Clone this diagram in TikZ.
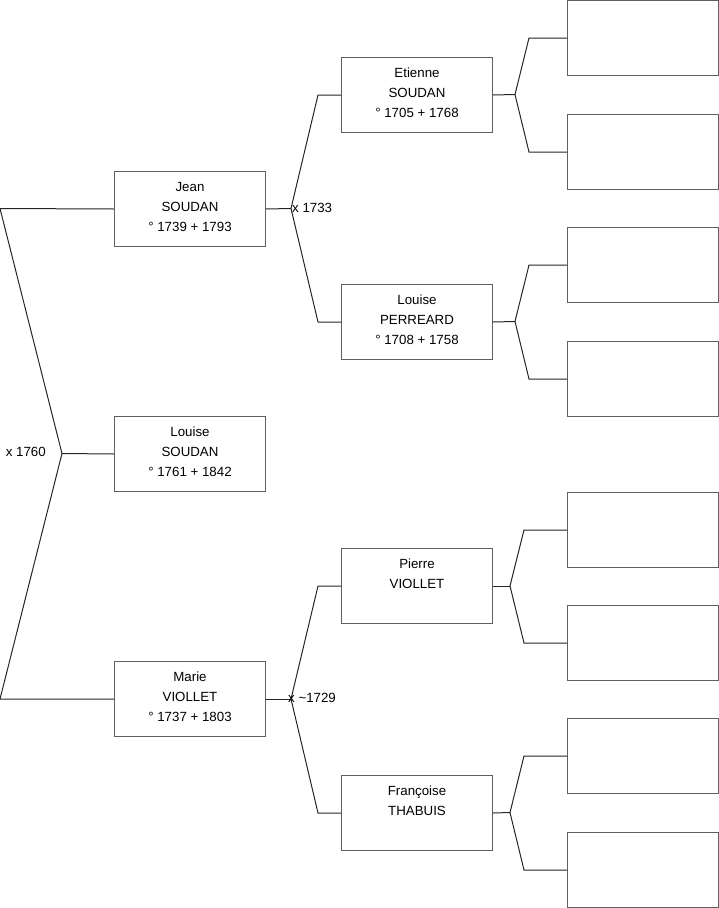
\documentclass[tikz,border=0pt]{standalone}
\usepackage{fontspec}
\setmainfont{Liberation Sans}
\tikzset{
  person/.style={draw=gray!75!black,line width=1pt,minimum width=151pt,minimum height=75pt,inner sep=0pt,anchor=north west},
  names/.style={anchor=north,inner sep=0pt,align=center},
  link/.style={line width=1pt,draw=black!85}
}
\begin{document}
\begin{tikzpicture}[x=1pt,y=-1pt,font=\fontsize{13.3}{20}\selectfont]
\useasboundingbox (0,0) rectangle (719,908);
\node[person] (jean) at (114,171) {};
\node[person] (louise) at (114,416) {};
\node[person] (marie) at (114,661) {};
\node[person] (etienne) at (341,57) {};
\node[person] (perreard) at (341,284) {};
\node[person] (pierre) at (341,548) {};
\node[person] (francoise) at (341,775) {};
\node[person] (e1) at (567,0) {};\node[person] (e2) at (567,114) {};
\node[person] (p1) at (567,227) {};\node[person] (p2) at (567,341) {};
\node[person] (v1) at (567,492) {};\node[person] (v2) at (567,605) {};
\node[person] (t1) at (567,718) {};\node[person] (t2) at (567,832) {};
\node[names] at ([yshift=-11pt]jean.north) {Jean\\SOUDAN\\° 1739 + 1793};
\node[names] at ([yshift=-11pt]louise.north) {Louise\\SOUDAN\\° 1761 + 1842};
\node[names] at ([yshift=-11pt]marie.north) {Marie\\VIOLLET\\° 1737 + 1803};
\node[names] at ([yshift=-11pt]etienne.north) {Etienne\\SOUDAN\\° 1705 + 1768};
\node[names] at ([yshift=-11pt]perreard.north) {Louise\\PERREARD\\° 1708 + 1758};
\node[names] at ([yshift=-11pt]pierre.north) {Pierre\\VIOLLET};
\node[names] at ([yshift=-11pt]francoise.north) {Françoise\\THABUIS};
\coordinate (jt) at (0,208.5);\coordinate (mt) at (0,699);\coordinate (x0) at (62,453.5);
\coordinate (x1) at (291,208.5);\coordinate (x2) at (291,699);
\coordinate (x3) at (515,94.5);\coordinate (x4) at (515,321.5);
\coordinate (x5) at (510,586);\coordinate (x6) at (510,812.5);
\draw[link] (jean.west) -- (jt) -- (x0) -- (mt) -- (marie.west);
\draw[link] (x0) -- (louise.west);
\draw[link] (jean.east) -- (x1);
\draw[link] (etienne.west) -- ([xshift=-23pt]etienne.west) -- (x1) -- ([xshift=-23pt]perreard.west) -- (perreard.west);
\draw[link] (marie.east) -- (x2);
\draw[link] (pierre.west) -- ([xshift=-23pt]pierre.west) -- (x2) -- ([xshift=-23pt]francoise.west) -- (francoise.west);
\draw[link] (etienne.east) -- (x3);
\draw[link] (e1.west) -- ([xshift=-38pt]e1.west) -- (x3) -- ([xshift=-38pt]e2.west) -- (e2.west);
\draw[link] (perreard.east) -- (x4);
\draw[link] (p1.west) -- ([xshift=-38pt]p1.west) -- (x4) -- ([xshift=-38pt]p2.west) -- (p2.west);
\draw[link] (pierre.east) -- (x5);
\draw[link] (v1.west) -- ([xshift=-43pt]v1.west) -- (x5) -- ([xshift=-43pt]v2.west) -- (v2.west);
\draw[link] (francoise.east) -- (x6);
\draw[link] (t1.west) -- ([xshift=-43pt]t1.west) -- (x6) -- ([xshift=-43pt]t2.west) -- (t2.west);
\node[anchor=east,inner sep=0pt] at ([xshift=-16pt,yshift=2pt]x0) {x 1760};
\node[anchor=west,inner sep=0pt] at ([xshift=1pt,yshift=1pt]x1) {x 1733};
\node[anchor=west,inner sep=0pt] at ([xshift=-3pt,yshift=1pt]x2) {x \textasciitilde1729};
\end{tikzpicture}
\end{document}
